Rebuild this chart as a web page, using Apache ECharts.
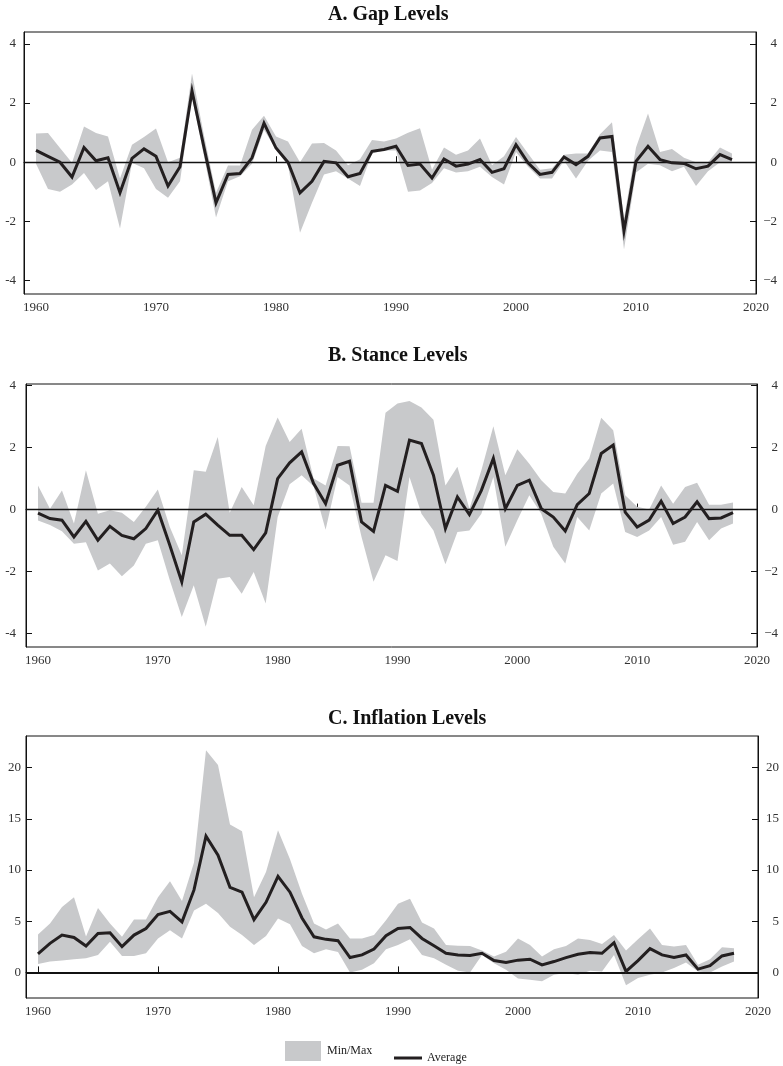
<!DOCTYPE html>
<html><head><meta charset="utf-8">
<script src="https://cdn.jsdelivr.net/npm/echarts@6/dist/echarts.min.js"></script>
<style>html,body{margin:0;padding:0;background:#fff}#c{width:783px;height:1066px}</style>
</head><body><div id="c"></div>
<script>
const years = [1960,1961,1962,1963,1964,1965,1966,1967,1968,1969,1970,1971,1972,1973,1974,1975,1976,1977,1978,1979,
1980,1981,1982,1983,1984,1985,1986,1987,1988,1989,1990,1991,1992,1993,1994,1995,1996,1997,1998,1999,
2000,2001,2002,2003,2004,2005,2006,2007,2008,2009,2010,2011,2012,2013,2014,2015,2016,2017,2018];
const xTicks = [1960,1970,1980,1990,2000,2010,2020];

const gapAvg = [0.40,0.20,0.00,-0.50,0.50,0.05,0.15,-1.03,0.13,0.45,0.20,-0.80,-0.15,2.41,0.50,-1.37,-0.41,-0.38,0.15,1.32,
0.48,0.00,-1.03,-0.64,0.03,-0.02,-0.49,-0.38,0.37,0.43,0.54,-0.11,-0.06,-0.53,0.11,-0.13,-0.06,0.09,-0.34,-0.22,
0.59,-0.02,-0.41,-0.34,0.18,-0.08,0.20,0.82,0.87,-2.32,0.03,0.54,0.09,-0.02,-0.04,-0.22,-0.13,0.26,0.09];
const gapMax = [0.97,0.99,0.48,-0.02,1.21,0.99,0.87,-0.55,0.59,0.85,1.14,0.00,0.15,3.00,0.90,-1.03,-0.11,-0.11,1.10,1.57,
0.87,0.70,0.00,0.63,0.65,0.40,-0.10,0.10,0.75,0.70,0.80,1.00,1.15,-0.25,0.50,0.25,0.40,0.80,-0.10,0.20,
0.85,0.30,-0.25,-0.20,0.25,0.30,0.30,0.95,1.35,-1.90,0.50,1.65,0.35,0.45,0.15,0.00,0.00,0.50,0.30];
const gapMin = [-0.05,-0.90,-1.00,-0.75,-0.36,-0.94,-0.64,-2.24,-0.02,-0.20,-0.90,-1.20,-0.64,2.20,0.20,-1.87,-0.64,-0.47,-0.05,1.10,
0.43,-0.10,-2.38,-1.37,-0.41,-0.30,-0.55,-0.80,0.30,0.40,0.40,-1.00,-0.95,-0.70,-0.20,-0.35,-0.30,-0.15,-0.50,-0.75,
0.35,-0.15,-0.55,-0.55,0.05,-0.55,0.05,0.40,0.35,-2.95,-0.35,-0.05,-0.10,-0.30,-0.15,-0.80,-0.30,0.00,0.00];

const stanceAvg = [-0.11,-0.29,-0.34,-0.88,-0.38,-0.99,-0.54,-0.83,-0.94,-0.61,-0.02,-1.15,-2.33,-0.40,-0.15,-0.50,-0.83,-0.83,-1.29,-0.75,
1.00,1.51,1.86,0.84,0.19,1.43,1.56,-0.40,-0.70,0.78,0.59,2.24,2.13,1.11,-0.61,0.41,-0.16,0.62,1.65,0.03,
0.78,0.95,0.03,-0.24,-0.69,0.16,0.52,1.81,2.08,-0.08,-0.56,-0.34,0.27,-0.45,-0.24,0.25,-0.29,-0.27,-0.10];
const stanceMax = [0.78,0.03,0.62,-0.45,1.27,-0.13,-0.02,-0.10,-0.40,0.09,0.65,-0.56,-1.47,1.27,1.22,2.34,-0.10,0.73,0.14,2.05,
2.97,2.18,2.61,1.00,0.78,2.05,2.04,0.22,0.22,3.12,3.42,3.50,3.29,2.90,0.78,1.38,0.03,1.27,2.69,1.11,
1.95,1.48,0.95,0.57,0.52,1.16,1.65,2.96,2.56,0.46,0.09,0.00,0.78,0.19,0.73,0.87,0.16,0.16,0.23];
const stanceMin = [-0.35,-0.50,-0.70,-1.10,-1.05,-1.96,-1.74,-2.15,-1.80,-1.10,-0.99,-2.28,-3.46,-2.44,-3.78,-2.23,-2.17,-2.71,-2.01,-3.03,
-0.24,0.82,1.11,0.75,-0.65,1.05,0.78,-0.88,-2.33,-1.47,-1.66,1.05,-0.13,-0.67,-1.76,-0.72,-0.67,-0.13,1.05,-1.20,
-0.34,0.46,-0.13,-1.20,-1.74,-0.24,-0.67,0.52,0.84,-0.72,-0.88,-0.67,-0.24,-1.13,-1.04,-0.40,-0.99,-0.61,-0.45];

const inflAvg = [1.81,2.84,3.65,3.42,2.58,3.81,3.87,2.52,3.65,4.29,5.65,5.97,4.94,8.06,13.32,11.45,8.32,7.84,5.16,6.85,
9.39,7.84,5.32,3.48,3.23,3.10,1.45,1.71,2.29,3.58,4.29,4.39,3.32,2.61,1.87,1.71,1.65,1.87,1.16,0.97,
1.20,1.29,0.74,1.06,1.45,1.77,1.94,1.87,2.90,0.10,1.16,2.32,1.71,1.45,1.71,0.32,0.65,1.61,1.87];
const inflMax = [3.71,4.77,6.39,7.35,3.50,6.29,4.77,3.48,5.16,5.16,7.35,8.90,6.97,10.74,21.70,20.26,14.45,13.80,7.35,9.80,
13.90,11.06,7.68,4.77,4.19,4.77,3.32,3.32,3.65,5.10,6.71,7.19,4.87,4.29,2.68,2.61,2.58,2.13,1.55,2.03,
3.32,2.68,1.55,2.26,2.58,3.32,3.16,2.77,3.65,2.13,3.23,4.29,2.68,2.52,2.68,0.74,1.29,2.45,2.35];
const inflMin = [0.81,1.06,1.16,1.29,1.39,1.71,3.00,1.61,1.61,1.87,3.32,4.13,3.32,6.06,6.71,5.81,4.45,3.65,2.68,3.55,
5.26,4.71,2.58,1.87,2.26,2.00,0.00,0.26,0.90,2.26,2.68,3.23,1.71,1.39,0.74,0.16,0.00,1.71,0.90,0.26,
-0.60,-0.71,-0.87,-0.23,-0.06,-0.23,0.16,0.10,1.71,-1.26,-0.55,-0.23,0.00,0.42,0.97,0.10,0.00,0.58,1.06];

const panelTitles = ['A. Gap Levels','B. Stance Levels','C. Inflation Levels'];
const yTicksAB = [-4,-2,0,2,4];
const yTicksC = [0,5,10,15,20];

const FONT = '"Liberation Serif", "DejaVu Serif", serif';
const BAND = '#c8c9cb';
const INK = '#231f20';

const panels = [
  {avg: gapAvg, max: gapMax, min: gapMin, ticks: yTicksAB, ymin: -4.45, ymax: 4.4,
   grid: {left: 24, right: 27, top: 32, height: 262}, titleTop: 5, lm: 8, zw: 1.4},
  {avg: stanceAvg, max: stanceMax, min: stanceMin, ticks: yTicksAB, ymin: -4.43, ymax: 4.05,
   grid: {left: 26, right: 26, top: 384, height: 263}, titleTop: 346, lm: 10, zw: 1.4},
  {avg: inflAvg, max: inflMax, min: inflMin, ticks: yTicksC, ymin: -2.5, ymax: 23.1,
   grid: {left: 26, right: 25, top: 736, height: 262}, titleTop: 709, lm: 5, zw: 2}
];

function bandRenderer(p) {
  return function (params, api) {
    if (params.dataIndex !== 0) return null;
    const upper = years.map((y, k) => api.coord([y, p.max[k]]));
    const lower = years.map((y, k) => api.coord([y, p.min[k]])).reverse();
    return {type: 'polygon', shape: {points: upper.concat(lower)}, style: {fill: BAND, stroke: null}};
  };
}

const option = {
  animation: false,
  backgroundColor: '#fff',
  title: panels.map((p, i) => ({
    text: panelTitles[i], left: 328, top: p.titleTop, padding: 0,
    textStyle: {fontFamily: FONT, fontWeight: 'bold', fontSize: 20, color: '#111'}
  })),
  legend: [
    {data: [{name: 'Min/Max', icon: 'rect', itemStyle: {color: BAND}}], left: 285, top: 1041,
     itemWidth: 36, itemHeight: 20, itemGap: 0, padding: 0, selectedMode: false,
     textStyle: {fontFamily: FONT, fontSize: 12, color: '#222', padding: [0, 0, 0, 1]}},
    {data: [{name: 'Average', icon: 'rect', itemStyle: {color: INK}}], left: 394, top: 1052,
     itemWidth: 28, itemHeight: 3, itemGap: 0, padding: 0, selectedMode: false,
     textStyle: {fontFamily: FONT, fontSize: 12, color: '#222', padding: [0, 0, 0, 0]}}
  ],
  grid: panels.map(p => Object.assign({show: true, borderColor: '#111', borderWidth: 1, backgroundColor: 'transparent'}, p.grid)),
  xAxis: panels.map((p, i) => ({
    type: 'value', gridIndex: i, min: 1959, max: 2020,
    axisLine: {show: true, lineStyle: {color: '#111', width: 1}},
    axisTick: {show: true, inside: true, length: 6, customValues: xTicks, lineStyle: {color: '#111'}},
    axisLabel: {customValues: xTicks, margin: 7, fontFamily: FONT, fontSize: 13, color: '#333',
      formatter: v => String(v)},
    splitLine: {show: false}
  })),
  yAxis: [].concat(...panels.map((p, i) => [
    {type: 'value', gridIndex: i, min: p.ymin, max: p.ymax, position: 'left',
     axisLine: {show: true, lineStyle: {color: '#111'}},
     axisTick: {show: true, inside: true, length: 6, customValues: p.ticks, lineStyle: {color: '#111'}},
     axisLabel: {customValues: p.ticks, margin: p.lm, fontFamily: FONT, fontSize: 13, color: '#333',
       formatter: v => String(v)},
     splitLine: {show: false}},
    {type: 'value', gridIndex: i, min: p.ymin, max: p.ymax, position: 'right',
     axisLine: {show: true, lineStyle: {color: '#111'}},
     axisTick: {show: true, inside: true, length: 6, customValues: p.ticks, lineStyle: {color: '#111'}},
     axisLabel: {customValues: p.ticks, margin: 21, align: 'right', fontFamily: FONT, fontSize: 13, color: '#333',
       formatter: v => (v < 0 ? '\u2212' + Math.abs(v) : String(v))},
     splitLine: {show: false}}
  ])),
  series: [].concat(...panels.map((p, i) => [
    {type: 'custom', name: 'Min/Max', xAxisIndex: i, yAxisIndex: 2 * i,
     data: years.map((y, k) => [y, p.min[k], p.max[k]]),
     encode: {x: 0, y: [1, 2]}, renderItem: bandRenderer(p), silent: true,
     itemStyle: {color: BAND}, z: 1},
    {type: 'line', name: 'Average', xAxisIndex: i, yAxisIndex: 2 * i,
     data: years.map((y, k) => [y, p.avg[k]]), symbol: 'none', silent: true,
     lineStyle: {color: INK, width: 3, join: 'miter'}, itemStyle: {color: INK}, z: 3,
     markLine: {silent: true, symbol: 'none', label: {show: false}, z: 2,
       lineStyle: {color: '#111', width: p.zw, type: 'solid'},
       data: [{yAxis: 0}]}}
  ]))
};

const chart = echarts.init(document.getElementById('c'), null, {renderer: 'canvas'});
chart.setOption(option);
</script>
</body></html>
